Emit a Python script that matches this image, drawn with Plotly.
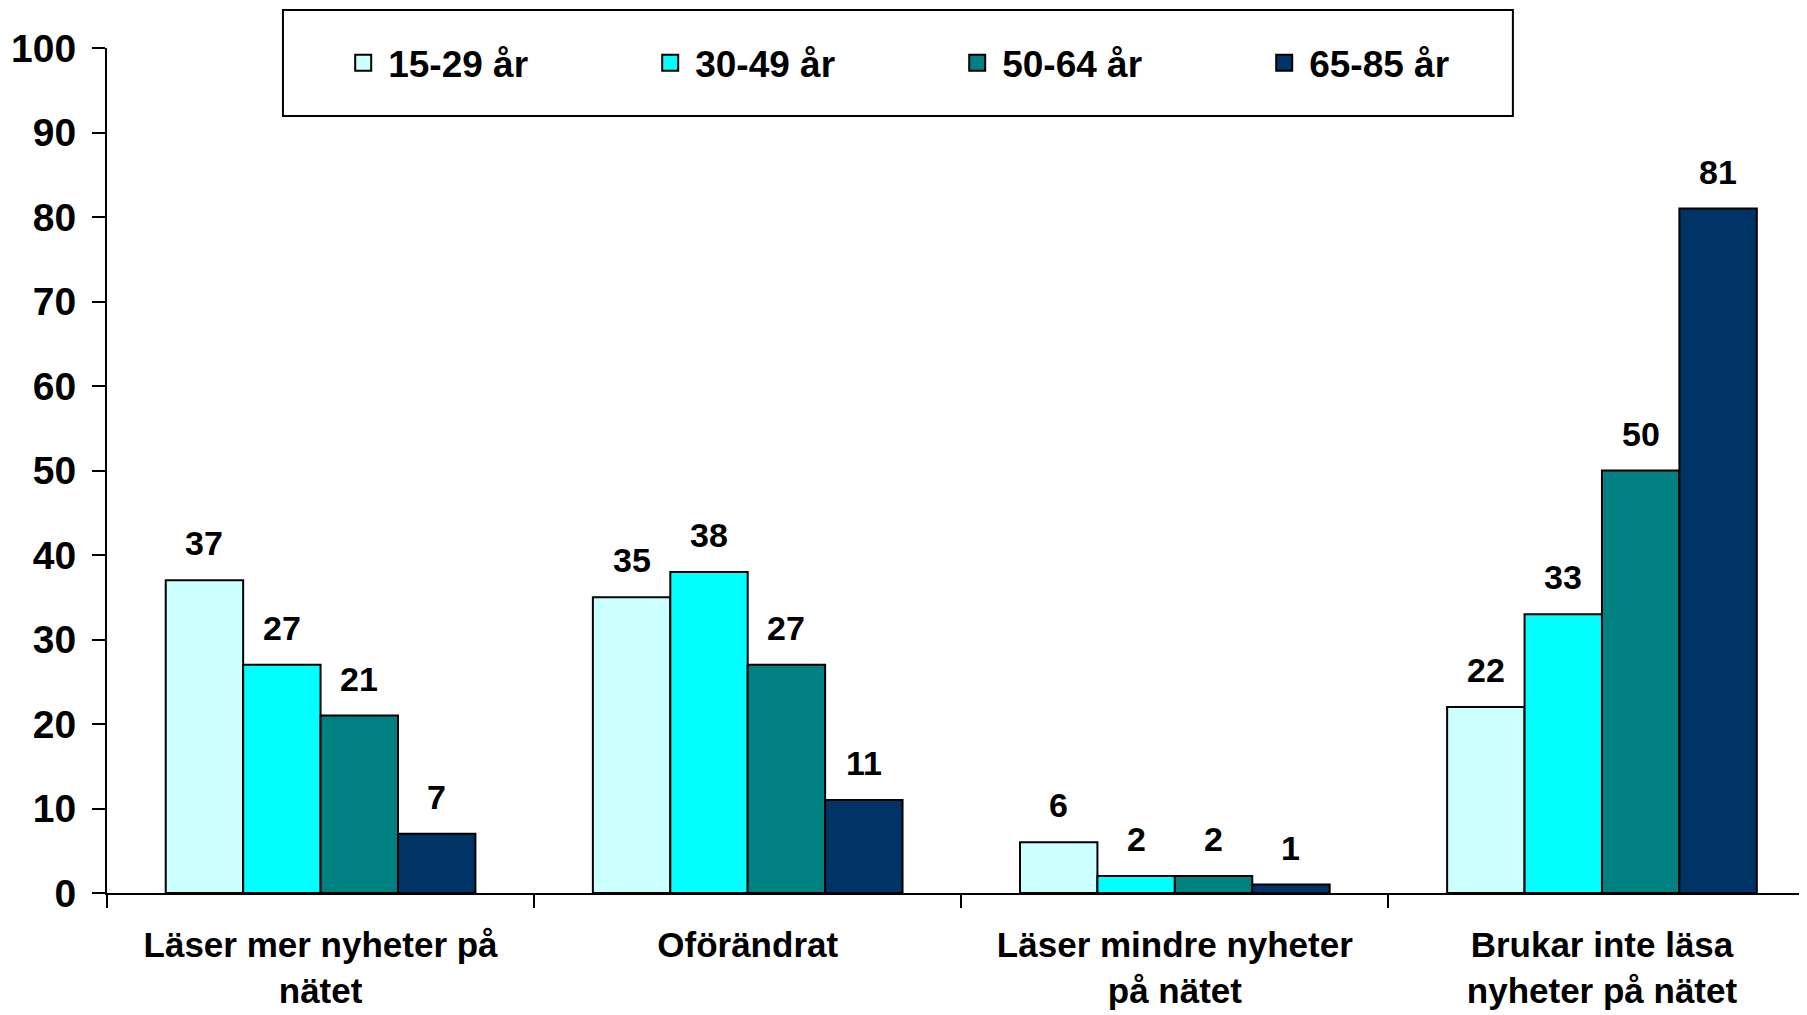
import plotly.graph_objects as go

categories = [
    "Läser mer nyheter på<br>nätet",
    "Oförändrat",
    "Läser mindre nyheter<br>på nätet",
    "Brukar inte läsa<br>nyheter på nätet",
]
age_groups = ["15-29 år", "30-49 år", "50-64 år", "65-85 år"]
age_15_29 = [37, 35, 6, 22]
age_30_49 = [27, 38, 2, 33]
age_50_64 = [21, 27, 2, 50]
age_65_85 = [7, 11, 1, 81]
colors = ["#CCFFFF", "#00FFFF", "#008080", "#003366"]

FONT = "Arial, Liberation Sans, sans-serif"
W, H = 1799, 1007
ML, MR, MT, MB = 99, 0, 40, 122
X_RANGE = [-0.5, 3.48]
BARGAP = 0.275

series = [age_15_29, age_30_49, age_50_64, age_65_85]

fig = go.Figure()
for name, vals, col in zip(age_groups, series, colors):
    fig.add_trace(go.Bar(
        name=name,
        x=categories,
        y=vals,
        marker=dict(color=col, line=dict(color="black", width=2)),
        showlegend=False,
    ))

# legend entries with larger square swatches
for name, col in zip(age_groups, colors):
    fig.add_trace(go.Scatter(
        name=name,
        x=[None], y=[None],
        mode="markers",
        marker=dict(symbol="square", size=22, color=col, line=dict(color="black", width=2)),
    ))

# value labels above bars
cat_px = (W - ML - MR) / (X_RANGE[1] - X_RANGE[0])
bar_px = cat_px * (1 - BARGAP) / len(series)
annotations = []
for i, vals in enumerate(series):
    for cat, v in zip(categories, vals):
        annotations.append(dict(
            x=cat, y=v, xref="x", yref="y",
            text=str(v), showarrow=False,
            xshift=(i - (len(series) - 1) / 2) * bar_px,
            yshift=37, yanchor="middle",
            font=dict(family=FONT, size=34, color="black", weight="bold"),
        ))

fig.update_layout(
    width=W,
    height=H,
    margin=dict(l=ML, r=MR, t=MT, b=MB, autoexpand=False),
    paper_bgcolor="white",
    plot_bgcolor="white",
    barmode="group",
    bargap=BARGAP,
    bargroupgap=0,
    font=dict(family=FONT, size=33, color="black", weight="bold"),
    showlegend=True,
    legend=dict(
        orientation="h",
        x=0.136,
        xanchor="left",
        y=0.982,
        yanchor="middle",
        entrywidth=252,
        entrywidthmode="pixels",
        itemwidth=40,
        itemsizing="trace",
        bgcolor="rgba(0,0,0,0)",
        borderwidth=0,
        font=dict(family=FONT, size=37, color="black", weight="bold"),
    ),
    annotations=annotations,
    shapes=[dict(
        type="rect", xref="paper", yref="paper",
        x0=0.1035, x1=0.827, y0=0.9195, y1=1.045,
        line=dict(color="black", width=2), fillcolor="white", layer="below",
    )],
)

fig.update_xaxes(
    range=X_RANGE,
    automargin=False,
    showline=True, linecolor="black", linewidth=2,
    ticks="outside", tickson="boundaries", ticklen=13, tickwidth=2, tickcolor="black",
    ticklabelstandoff=20,
    tickfont=dict(family=FONT, size=35, color="black", weight="bold"),
    showgrid=False, zeroline=False,
)
fig.update_yaxes(
    range=[0, 100], dtick=10,
    automargin=False,
    showline=True, linecolor="black", linewidth=2,
    ticks="outside", ticklen=13, tickwidth=2, tickcolor="black",
    ticklabelstandoff=8,
    tickfont=dict(family=FONT, size=39, color="black", weight="bold"),
    showgrid=False, zeroline=False,
)

fig.write_html("out.html")
